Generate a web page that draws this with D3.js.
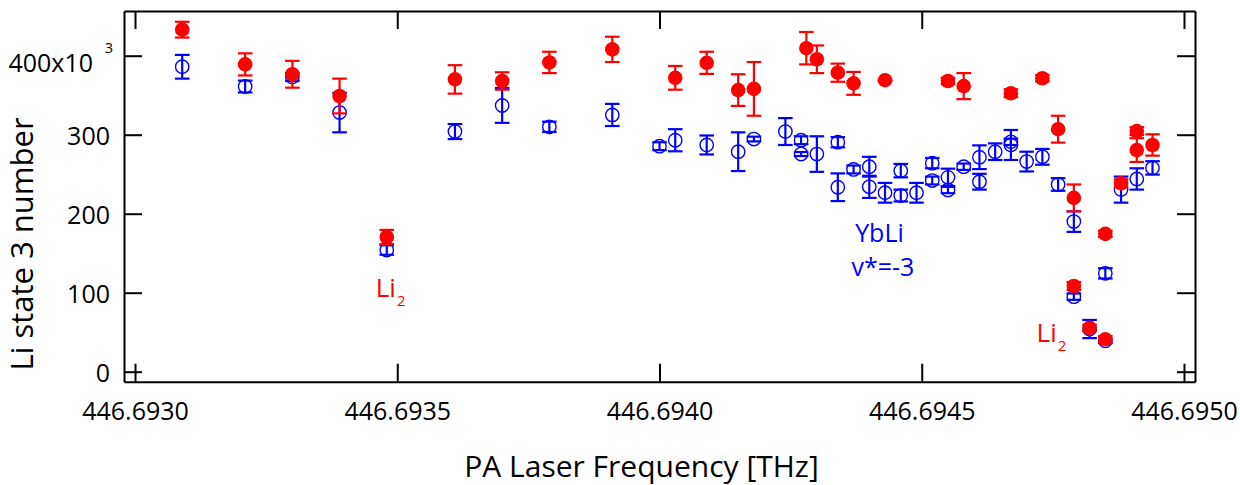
<!DOCTYPE html>
<html>
<head>
<meta charset="utf-8">
<script src="https://cdn.jsdelivr.net/npm/d3@7"></script>
<style>
body { margin: 0; background: #fff; }
text { font-family: "Open Sans", sans-serif; }
</style>
</head>
<body>
<svg></svg>
<script>
// constants
const WIDTH = 1240;
const HEIGHT = 485;
const LEFT = 124, RIGHT = 1195, TOP = 11, BOTTOM = 381.7;
const TICK = 18;
const R = 7.3;

// red: Li2 (filled)
const redFreq = [446.69309, 446.69321, 446.69330, 446.69339, 446.69348, 446.69361, 446.69370, 446.69379,
  446.69391, 446.69403, 446.69409, 446.69415, 446.69418, 446.69428, 446.69430, 446.69434, 446.69437,
  446.69443, 446.69455, 446.69458, 446.69467, 446.69473, 446.69476, 446.69479, 446.69479, 446.69482,
  446.69485, 446.69485, 446.69488, 446.69491, 446.69491, 446.69494];
const redCount = [433000, 389000, 376500, 349000, 170500, 370000, 368000, 391500,
  408000, 372000, 391000, 356500, 358000, 409500, 395500, 378500, 365000,
  369000, 368000, 361500, 352500, 371500, 307000, 220000, 108500, 55500,
  174500, 41000, 238500, 304500, 280500, 287000];
const redErr = [10000, 14000, 17000, 22000, 9000, 18000, 11000, 13500,
  16000, 15000, 14000, 20000, 34000, 20500, 17500, 11500, 14500,
  1000, 4000, 16500, 5000, 4000, 17000, 17000, 5000, 4000,
  4000, 4000, 5000, 5000, 15000, 13500];

// blue: YbLi (open)
const blueFreq = [446.69309, 446.69321, 446.69330, 446.69339, 446.69348, 446.69361, 446.69370, 446.69379,
  446.69391, 446.69400, 446.69403, 446.69409, 446.69415, 446.69418, 446.69424, 446.69427, 446.69427,
  446.69430, 446.69434, 446.69434, 446.69437, 446.69440, 446.69440, 446.69443, 446.69446, 446.69446,
  446.69449, 446.69452, 446.69452, 446.69455, 446.69455, 446.69458, 446.69461, 446.69461, 446.69464,
  446.69467, 446.69467, 446.69470, 446.69473, 446.69476, 446.69479, 446.69479, 446.69482, 446.69485,
  446.69485, 446.69488, 446.69491, 446.69494];
const blueCount = [386000, 361000, 373000, 328000, 154000, 304000, 337000, 310000,
  325000, 285500, 293000, 287000, 278500, 294500, 304000, 293000, 275500,
  275500, 290500, 233500, 256000, 259500, 234000, 226500, 254500, 223000,
  226500, 264000, 242000, 246000, 230000, 259500, 271500, 240500, 278500,
  287000, 291000, 266000, 272000, 237000, 190000, 95000, 54000, 124500,
  39000, 230500, 244000, 258000];
const blueErr = [15000, 7500, 5000, 25000, 6000, 9500, 22000, 6500,
  14000, 5000, 14000, 12000, 24500, 3000, 17000, 5000, 2500,
  22500, 6500, 17500, 5000, 12500, 14000, 12500, 8500, 7500,
  12500, 6500, 5000, 11000, 4000, 4000, 15000, 10000, 10500,
  19000, 4000, 12500, 10000, 8000, 13000, 4000, 11500, 6500,
  2500, 16500, 13500, 8500];

// ticks
const xTicks = [446.6930, 446.6935, 446.6940, 446.6945, 446.6950];
const yTicks = [0, 100000, 200000, 300000, 400000];

// annotations
const notes = [
  {text: 'Li', sub: '2', freq: 446.693459, count: 94600, color: '#ff0000', size: 26},
  {text: 'Li', sub: '2', freq: 446.694719, count: 38000, color: '#ff0000', size: 26},
  {text: 'YbLi', sub: '', freq: 446.694373, count: 164000, color: '#0000ff', size: 25},
  {text: 'v*=-3', sub: '', freq: 446.694366, count: 121000, color: '#0000ff', size: 25}
];

const svg = d3.select('svg')
    .attr('width', WIDTH)
    .attr('height', HEIGHT);

const x = d3.scaleLinear()
    .domain([446.692979, 446.695021])
    .range([LEFT, RIGHT]);
const y = d3.scaleLinear()
    .domain([-12660, 456600])
    .range([BOTTOM, TOP]);

// axes
svg.append('g')
    .attr('transform', `translate(0, ${BOTTOM})`)
    .call(d3.axisBottom(x).tickValues(xTicks).tickFormat(d3.format('.4f'))
        .tickSizeInner(-TICK).tickSizeOuter(0).tickPadding(20.5));
svg.append('g')
    .attr('transform', `translate(0, ${TOP})`)
    .call(d3.axisTop(x).tickValues(xTicks).tickFormat('')
        .tickSizeInner(-TICK).tickSizeOuter(0));
const yLeft = svg.append('g')
    .attr('transform', `translate(${LEFT}, 0)`)
    .call(d3.axisLeft(y).tickValues(yTicks).tickFormat(d => d === 400000 ? '400x10' : d / 1000)
        .tickSizeInner(-TICK).tickSizeOuter(0).tickPadding(14));
svg.append('g')
    .attr('transform', `translate(${RIGHT}, 0)`)
    .call(d3.axisRight(y).tickValues(yTicks).tickFormat('')
        .tickSizeInner(-TICK).tickSizeOuter(0));

svg.selectAll('.domain, .tick line')
    .attr('stroke', '#000')
    .attr('stroke-width', 2);
svg.selectAll('.tick text')
    .attr('fill', '#000')
    .attr('font-family', '"Open Sans", sans-serif')
    .attr('font-size', 25);
yLeft.selectAll('.tick text').attr('dy', '0.4em');

// 400x10^3 label
yLeft.selectAll('.tick text')
    .filter(d => d === 400000)
    .attr('dy', null)
    .attr('y', 16)
    .attr('x', -11)
    .append('tspan')
    .attr('dx', 12)
    .attr('dy', -19.7)
    .attr('font-size', 14)
    .text('3');

// axis titles
svg.append('text')
    .attr('transform', 'translate(33, 244) rotate(-90)')
    .attr('text-anchor', 'middle')
    .attr('font-size', 31)
    .text('Li state 3 number');
svg.append('text')
    .attr('x', 641.5)
    .attr('y', 477)
    .attr('text-anchor', 'middle')
    .attr('font-size', 30)
    .text('PA Laser Frequency [THz]');

// series
function drawSeries(freq, count, err, color, filled){
    const data = freq.map((f, i) => ({f: f, v: count[i], e: err[i]}));
    const g = svg.append('g')
        .attr('stroke', color)
        .attr('stroke-width', 2.2);
    const bars = g.selectAll('g.bar')
        .data(data).join('g')
        .attr('class', 'bar');
    bars.append('line')
        .attr('x1', d => x(d.f)).attr('x2', d => x(d.f))
        .attr('y1', d => y(d.v - d.e)).attr('y2', d => y(d.v + d.e));
    bars.append('line')
        .attr('x1', d => x(d.f) - R).attr('x2', d => x(d.f) + R)
        .attr('y1', d => y(d.v - d.e)).attr('y2', d => y(d.v - d.e));
    bars.append('line')
        .attr('x1', d => x(d.f) - R).attr('x2', d => x(d.f) + R)
        .attr('y1', d => y(d.v + d.e)).attr('y2', d => y(d.v + d.e));
    g.selectAll('circle')
        .data(data).join('circle')
        .attr('cx', d => x(d.f))
        .attr('cy', d => y(d.v))
        .attr('r', filled ? R : R - 0.6)
        .attr('fill', filled ? color : 'none')
        .attr('stroke', filled ? 'none' : color)
        .attr('stroke-width', 1.4);
}
drawSeries(blueFreq, blueCount, blueErr, '#0000ff', false);
drawSeries(redFreq, redCount, redErr, '#ff0000', true);

// annotations
const noteText = svg.selectAll('text.note')
    .data(notes).join('text')
    .attr('class', 'note')
    .attr('x', d => x(d.freq))
    .attr('y', d => y(d.count))
    .attr('fill', d => d.color)
    .attr('font-size', d => d.size)
    .text(d => d.text);
noteText.filter(d => d.sub)
    .append('tspan')
    .attr('dx', 1)
    .attr('dy', 9)
    .attr('font-size', 15)
    .text(d => d.sub);
</script>
</body>
</html>
